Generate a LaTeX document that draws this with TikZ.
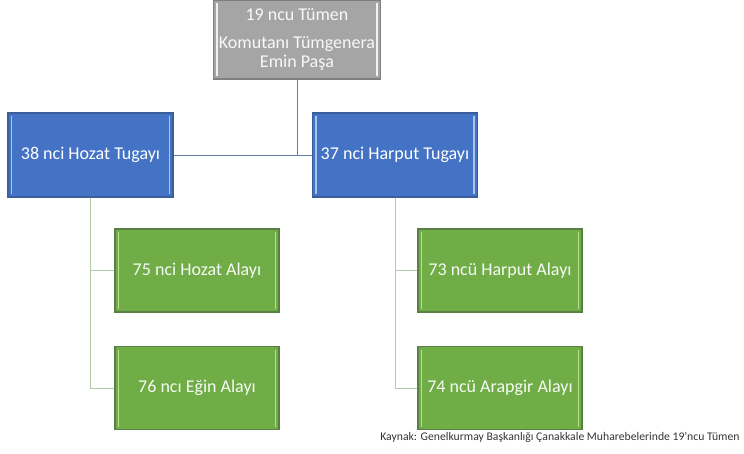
\documentclass[tikz,border=0pt]{standalone}
\usepackage{fontspec}
\setmainfont{Carlito}
\usepackage{xcolor}
\usepackage{tikz}
\usetikzlibrary{positioning}

\definecolor{komutagri}{HTML}{A5A5A5}
\definecolor{komutakenar}{HTML}{7F7F7F}
\definecolor{tugaymavi}{HTML}{4472C4}
\definecolor{tugaykenar}{HTML}{3B5E9A}
\definecolor{tugayacik}{HTML}{A9C4EE}
\definecolor{alayyesil}{HTML}{70AD47}
\definecolor{alaykenar}{HTML}{5A7F45}
\definecolor{alayacik}{HTML}{B6E08E}
\definecolor{ustcizgi}{HTML}{5E80A8}
\definecolor{altcizgi}{HTML}{B5CBA6}

\tikzset{
    kutu/.style={rectangle, inner sep=0pt, line width=1.2pt, align=center,
        font=\fontsize{18}{19}\selectfont,
        path picture={
            \draw[#1, line width=1.6pt]
                ([xshift=3.5pt,yshift=-3pt]path picture bounding box.north west) --
                ([xshift=3.5pt,yshift=3pt]path picture bounding box.south west);
            \draw[#1, line width=1.6pt]
                ([xshift=-3.5pt,yshift=-3pt]path picture bounding box.north east) --
                ([xshift=-3.5pt,yshift=3pt]path picture bounding box.south east);
        }},
    komuta/.style={kutu=white!85!komutagri, fill=komutagri, draw=komutakenar,
        text=white!92!komutagri, minimum width=167pt, minimum height=79pt},
    tugay/.style={kutu=tugayacik, fill=tugaymavi, draw=tugaykenar,
        text=white, minimum width=165pt, minimum height=84pt},
    alay/.style={kutu=alayacik, fill=alayyesil, draw=alaykenar,
        text=white!94!alayyesil, minimum width=164pt, minimum height=83pt},
    ustbag/.style={draw=ustcizgi, line width=1pt},
    altbag/.style={draw=altcizgi, line width=1pt}
}

\begin{document}
\begin{tikzpicture}[x=1pt, y=-1pt]
        \useasboundingbox (0,0) rectangle (744,453);
        % komuta
        \node [komuta] (tumen) at (297, 39.5)
            {19 ncu Tümen\\[9pt]Komutanı Tümgenera\\Emin Paşa};
        % tugaylar
        \node [tugay] (hozat) at (90.5, 155) {38 nci Hozat Tugayı};
        \node [tugay] (harput) at (395, 155) {37 nci Harput Tugayı};
        % alaylar
        \node [alay] (a75) at (197, 270.5) {75 nci Hozat Alayı};
        \node [alay] (a76) at (197, 388) {76 ncı Eğin Alayı};
        \node [alay] (a73) at (500, 270.5) {73 ncü Harput Alayı};
        \node [alay] (a74) at (500, 388) {74 ncü Arapgir Alayı};
        % baglar
        \draw [ustbag] (tumen.south) -- (tumen.south |- hozat.east);
        \draw [ustbag] (hozat.east) -- (harput.west);
        \draw [altbag] (hozat.south) |- (a75.west);
        \draw [altbag] (hozat.south) |- (a76.west);
        \draw [altbag] (harput.south) |- (a73.west);
        \draw [altbag] (harput.south) |- (a74.west);
        \node [anchor=east, text=black!80, font=\fontsize{11.7}{13}\selectfont] (kaynak) at (743, 437)
            {Kaynak: Genelkurmay Başkanlığı Çanakkale Muharebelerinde 19’ncu Tümen};
	\end{tikzpicture}
\end{document}
